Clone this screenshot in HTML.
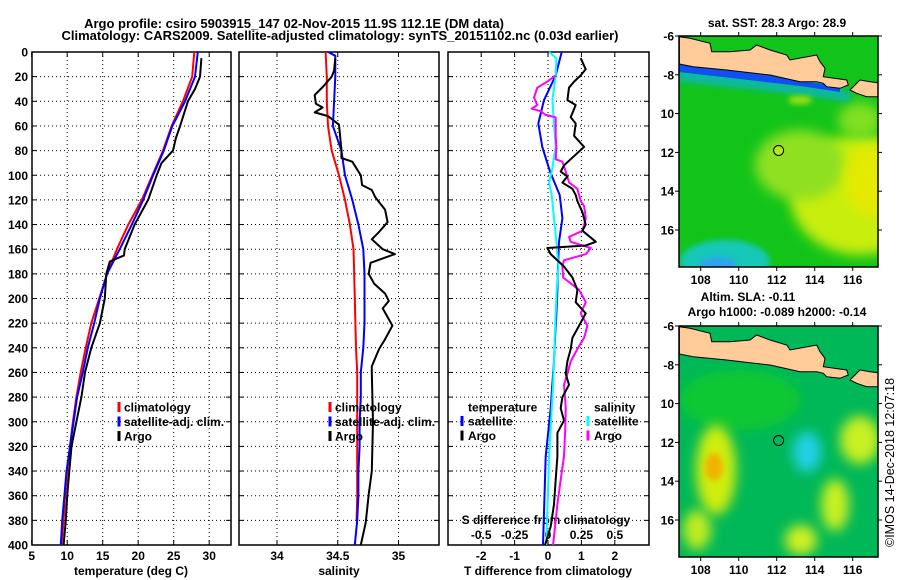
<!DOCTYPE html>
<html><head><meta charset="utf-8"><style>
html,body{margin:0;padding:0;background:#fff;}
svg{display:block;font-family:"Liberation Sans",Arial,sans-serif;}
.b{font-weight:bold;font-size:12px;}
.t{font-weight:bold;font-size:13px;}
</style></head><body>
<svg id="fig" width="900" height="580" viewBox="0 0 900 580" xmlns="http://www.w3.org/2000/svg">
<defs>
<filter id="blur6" x="-50%" y="-50%" width="200%" height="200%"><feGaussianBlur stdDeviation="6"/></filter>
<filter id="blur3" x="-50%" y="-50%" width="200%" height="200%"><feGaussianBlur stdDeviation="3"/></filter>
<clipPath id="m1clip"><rect x="679" y="36" width="199" height="231"/></clipPath>
<clipPath id="m2clip"><rect x="679" y="326" width="199" height="231"/></clipPath>
<clipPath id="latclip"><rect x="660" y="0" width="20" height="580"/></clipPath>
</defs>
<text class="t" x="294" y="28" text-anchor="middle">Argo profile: csiro 5903915_147 02-Nov-2015 11.9S 112.1E (DM data)</text>
<text class="t" x="340" y="40" text-anchor="middle">Climatology: CARS2009. Satellite-adjusted climatology: synTS_20151102.nc (0.03d earlier)</text>
<g id="panels"></g>
<g id="maps">
 <g clip-path="url(#m1clip)">
  <rect x="679" y="36" width="199" height="231" fill="#12c41a"/>
  <ellipse cx="860" cy="195" rx="70" ry="60" fill="#c8ee10" filter="url(#blur6)"/>
  <ellipse cx="800" cy="165" rx="45" ry="35" fill="#90e020" filter="url(#blur6)"/>
  <ellipse cx="870" cy="180" rx="25" ry="35" fill="#e4ea00" filter="url(#blur6)"/>
  <ellipse cx="860" cy="120" rx="22" ry="18" fill="#80e020" filter="url(#blur6)"/>
  <ellipse cx="725" cy="262" rx="45" ry="22" fill="#18c8b8" filter="url(#blur3)"/>
  <ellipse cx="718" cy="265" rx="18" ry="8" fill="#30a0f0" filter="url(#blur3)"/>
  <polygon points="679,64 693,67 727,70 770,75 800,82 823,84 840,89 850,92 850,102 800,95 740,88 679,82" fill="#10b8a0" filter="url(#blur3)"/>
  <polygon points="679,63 693,66 727,69 770,74 800,81 823,84 840,88 840,92 800,86 740,79 679,72" fill="#1050f0"/>
  <ellipse cx="800" cy="100" rx="12" ry="4" fill="#a8e010" filter="url(#blur3)"/>
  <circle cx="778.6" cy="150.5" r="5" fill="#b4e818" stroke="#000" stroke-width="1"/>
 </g>
 <g clip-path="url(#m2clip)">
  <rect x="679" y="326" width="199" height="231" fill="#00b858"/>
  <ellipse cx="740" cy="400" rx="60" ry="30" fill="#10c830" filter="url(#blur6)"/>
  <ellipse cx="716" cy="470" rx="20" ry="45" fill="#d0ee10" filter="url(#blur6)"/>
  <ellipse cx="714" cy="467" rx="9" ry="14" fill="#f0b400" filter="url(#blur3)"/>
  <ellipse cx="807" cy="452" rx="14" ry="20" fill="#20d0e8" filter="url(#blur6)"/>
  <ellipse cx="860" cy="440" rx="20" ry="24" fill="#c8f020" filter="url(#blur6)"/>
  <ellipse cx="835" cy="505" rx="14" ry="26" fill="#c8f020" filter="url(#blur6)"/>
  <ellipse cx="801" cy="540" rx="16" ry="15" fill="#d0f020" filter="url(#blur6)"/>
  <ellipse cx="697" cy="530" rx="14" ry="20" fill="#c0ec20" filter="url(#blur6)"/>
  <circle cx="778.6" cy="440.5" r="5" fill="none" stroke="#000" stroke-width="1"/>
 </g>
 <g id="land1">
  <polygon points="679.3,36.7 690,38.3 710,43.3 711.7,51.7 730,51.7 750,50 756.7,45 770,50 786.7,55 790,60 816.7,55 820,61.7 825,68.3 823.3,76.7 846.7,80 848.3,85 840,88.3 826.7,86.7 823.3,83.3 816.7,81.7 800,81.7 770,75 726.7,70 693.3,66.7 679.3,64" fill="#ffcc99" stroke="#000" stroke-width="1"/>
  <polygon points="850,90 860,80 870,81.7 878,82.7 878,96.7 866.7,96.7 856.7,93.3" fill="#ffcc99" stroke="#000" stroke-width="1"/>
 </g>
 <use href="#land1" transform="translate(0,290)"/>
 <rect x="679" y="36" width="199" height="231" fill="none" stroke="#000" stroke-width="1.5"/>
 <rect x="679" y="326" width="199" height="231" fill="none" stroke="#000" stroke-width="1.5"/>
 <g id="maplabels"></g>
 <text class="b" x="777" y="27" text-anchor="middle">sat. SST: 28.3 Argo: 28.9</text>
 <text class="b" x="748" y="301" text-anchor="middle">Altim. SLA: -0.11</text>
 <text class="b" x="777" y="316" text-anchor="middle">Argo h1000: -0.089 h2000: -0.14</text>
 <text x="894" y="547" font-size="12.5" transform="rotate(-90 894 547)">©IMOS 14-Dec-2018 12:07:18</text>
</g>
</svg>
<script>
// ---- Panel 1: temperature ----
const stdDepths = [0,20,40,60,80,100,120,140,160,180,200,220,240,260,280,300,320,340,360,380,400];
const tClim = [27.9,27.6,26.3,24.7,23.5,22.0,20.5,18.6,17.0,15.6,14.5,13.4,12.6,11.9,11.3,10.8,10.4,10.0,9.7,9.5,9.2];
const tSat = [28.4,28.0,26.6,24.8,23.6,22.1,20.7,19.1,17.4,15.6,14.6,13.8,12.9,12.2,11.4,10.9,10.4,9.9,9.6,9.3,9.1];
const tArgoDepths = [5,20,30,40,60,70,80,90,100,120,140,160,165,170,180,200,220,240,260,280,300,320,340,360,380,400];
const tArgo = [28.9,28.7,28.0,27.0,25.9,25.3,24.9,23.3,22.6,21.4,19.5,18.1,18.0,16.0,15.5,15.3,14.6,13.4,12.5,12.0,11.3,10.6,10.3,10.0,9.8,9.5];
const tTicks = [5,10,15,20,25,30];
// ---- Panel 2: salinity ----
const sClimDepths = [0,20,40,60,80,100,120,140,160,180,200,220,240,260,280,300,320,340,360,380];
const sClim = [34.40,34.41,34.41,34.42,34.45,34.51,34.56,34.60,34.63,34.635,34.64,34.645,34.65,34.66,34.66,34.66,34.66,34.66,34.66,34.655];
const sSatDepths = [0,3,20,40,60,80,100,120,140,160,180,200,220,240,260,280,300,320,340,360,380,400];
const sSat = [34.42,34.48,34.48,34.47,34.46,34.53,34.56,34.62,34.67,34.71,34.72,34.72,34.72,34.71,34.69,34.69,34.68,34.68,34.67,34.67,34.66,34.64];
const sArgoDepths = [5,15,20,28,35,42,45,49,52,59,79,86,89,100,108,112,118,128,138,146,152,160,164,171,180,188,196,202,208,222,233,241,255,260,300,340,359,382,400];
const sArgo = [34.48,34.47,34.45,34.38,34.31,34.32,34.375,34.31,34.42,34.51,34.53,34.53,34.62,34.69,34.70,34.78,34.81,34.89,34.91,34.84,34.78,34.87,34.97,34.77,34.755,34.80,34.89,34.92,34.87,34.95,34.89,34.84,34.78,34.78,34.79,34.78,34.755,34.73,34.69];
const sTicks = [34,34.5,35];
const sTickLabels = ["34","34.5","35"];
// ---- Panel 3: differences ----
const dTsatDepths = [0,19,39,58,77,97,116,135,154,174,193,212,232,251,270,289,328,400];
const dTsat = [0.41,0.23,-0.12,-0.29,-0.17,0.06,0.35,0.43,0.33,0.30,0.28,0.25,0.21,0.18,0.13,0.08,-0.07,-0.15];
const dTargoDepths = [5,14,19,24,29,39,43,53,58,68,77,87,92,97,101,106,111,116,121,130,140,145,154,157,159,164,174,183,193,203,212,222,232,241,251,261,270,280,289,299,309,328,347,367,385,400];
const dTargo = [0.98,1.13,0.98,0.78,0.63,0.58,0.83,0.68,0.83,0.78,1.08,0.68,0.48,0.38,0.58,0.43,0.73,0.83,0.88,1.03,1.13,1.03,1.43,1.13,-0.02,0.08,0.48,0.73,0.88,0.83,1.13,0.93,0.73,0.68,0.58,0.53,0.63,0.43,0.38,0.48,0.28,0.28,0.23,0.18,0.08,-0.09];
const dSsatDepths = [0,5,19,39,58,77,97,106,116,135,154,174,193,212,232,251,270,328,400];
const dSsat = [0.008,0.063,0.058,0.033,0.045,0.058,0.028,0.008,0.028,0.045,0.063,0.078,0.065,0.058,0.05,0.045,0.038,0.008,-0.013];
const dSargoDepths = [19,24,29,37,43,46,48,51,53,68,77,87,89,97,106,111,121,125,135,145,150,154,159,164,169,174,183,193,203,212,222,232,241,251,261,270,289,309,328,347,367,400];
const dSargo = [0.058,-0.005,-0.08,-0.105,-0.08,-0.123,-0.055,-0.018,0.058,0.058,0.063,0.058,0.108,0.133,0.158,0.22,0.245,0.27,0.283,0.258,0.158,0.17,0.32,0.283,0.12,0.108,0.113,0.233,0.283,0.245,0.295,0.27,0.22,0.17,0.145,0.12,0.133,0.128,0.12,0.095,0.07,0.038];
const dTTicks = [-2,-1,0,1,2];
const dSTicks = [-0.5,-0.25,0,0.25,0.5];
const dSTickLabels = ["-0.5","-0.25","0","0.25","0.5"];
const depthTicks = [0,20,40,60,80,100,120,140,160,180,200,220,240,260,280,300,320,340,360,380,400];
// ---- Maps ----
const lonTicks = [108,110,112,114,116];
const latTicks = [-6,-8,-10,-12,-14,-16];

const NS="http://www.w3.org/2000/svg";
const TOP=52, BOT=545;
function yD(d){return TOP + d*(BOT-TOP)/400;}
function xT(v){return 31.7 + (v-5)*7.1;}
function xS(v){return 277 + (v-34)*121.5;}
function xDT(v){return 548 + v*33.4;}
function xDS(v){return 548 + v*4*33.4;}
function mk(tag,attrs,parent){const e=document.createElementNS(NS,tag);for(const k in attrs)e.setAttribute(k,attrs[k]);parent.appendChild(e);return e;}
const panels=document.getElementById('panels');

function frame(x0,x1,xticks,xf,name){
  const g=mk('g',{},panels);
  
  
  depthTicks.forEach((d,i)=>{
    if(i>0&&i<depthTicks.length-1){
      const gl=mk('line',{x1:x0,x2:x1,y1:yD(d),y2:yD(d),stroke:'#000','stroke-width':1,'stroke-dasharray':'1,3'},g);
      
      
    }
    mk('line',{x1:x0,x2:x0+5,y1:yD(d),y2:yD(d),stroke:'#000','stroke-width':1},g);
    mk('line',{x1:x1-5,x2:x1,y1:yD(d),y2:yD(d),stroke:'#000','stroke-width':1},g);
  });
  xticks.forEach(v=>{
    const x=xf(v);
    if(x>x0+2&&x<x1-2){
      const gl=mk('line',{x1:x,x2:x,y1:TOP,y2:BOT,stroke:'#000','stroke-width':1,'stroke-dasharray':'1,3'},g);
      
      
    }
    mk('line',{x1:x,x2:x,y1:BOT-5,y2:BOT,stroke:'#000','stroke-width':1},g);
    mk('line',{x1:x,x2:x,y1:TOP,y2:TOP+5,stroke:'#000','stroke-width':1},g);
  });
  const r=mk('rect',{x:x0,y:TOP,width:x1-x0,height:BOT-TOP,fill:'none',stroke:'#000','stroke-width':1.5},g);
  
  
  return g;
}
function line(g,depths,vals,xf,color,name){
  const pts=depths.map((d,i)=>xf(vals[i]).toFixed(1)+','+yD(d).toFixed(1)).join(' ');
  const p=mk('polyline',{points:pts,fill:'none',stroke:color,'stroke-width':2,'stroke-linejoin':'round'},g);
  
  
}
function text(g,x,y,s,anchor,cls,name){
  const t=mk('text',{x:x,y:y,'text-anchor':anchor||'start',class:cls||'b'},g);
  t.textContent=s;
  
  
  return t;
}
function legendMark(g,x,y,color,name){
  const l=mk('line',{x1:x,x2:x,y1:y-10,y2:y,stroke:color,'stroke-width':3},g);
  
  
}

// Panel 1
const g1=frame(32,231,tTicks,xT,'temperature-panel');
depthTicks.forEach(d=>text(g1,28,yD(d)+4.5,String(d),'end','b','depth-tick-label'));
tTicks.forEach(v=>text(g1,xT(v),560,String(v),'middle','b','temperature-tick-label'));
text(g1,131,575,'temperature (deg C)','middle','b','temperature-axis-title');
line(g1,stdDepths,tClim,xT,'#ff0000','temperature-climatology-line');
line(g1,stdDepths,tSat,xT,'#0000ff','temperature-satellite-line');
line(g1,tArgoDepths,tArgo,xT,'#000000','temperature-argo-line');
[['climatology','#ff0000'],['satellite-adj. clim.','#0000ff'],['Argo','#000000']].forEach((e,i)=>{
  legendMark(g1,119,412+i*14.5,e[1],'legend-marker');
  text(g1,124,411.5+i*14.5,e[0],'start','b','legend-entry');
});
// Panel 2
const g2=frame(239,439,sTicks,xS,'salinity-panel');
sTicks.forEach((v,i)=>text(g2,xS(v),560,sTickLabels[i],'middle','b','salinity-tick-label'));
text(g2,339,575,'salinity','middle','b','salinity-axis-title');
line(g2,sClimDepths,sClim,xS,'#ff0000','salinity-climatology-line');
line(g2,sSatDepths,sSat,xS,'#0000ff','salinity-satellite-line');
line(g2,sArgoDepths,sArgo,xS,'#000000','salinity-argo-line');
[['climatology','#ff0000'],['satellite-adj. clim.','#0000ff'],['Argo','#000000']].forEach((e,i)=>{
  legendMark(g2,330,412+i*14.5,e[1],'legend-marker');
  text(g2,335,411.5+i*14.5,e[0],'start','b','legend-entry');
});
// Panel 3
const g3=frame(448,649,dTTicks,xDT,'difference-panel');
dTTicks.forEach(v=>text(g3,xDT(v),560,String(v),'middle','b','t-diff-tick-label'));
dSTicks.forEach((v,i)=>text(g3,xDS(v),539,dSTickLabels[i],'middle','b','s-diff-tick-label'));
text(g3,546,524,'S difference from climatology','middle','b','s-diff-axis-title');
text(g3,548,575,'T difference from climatology','middle','b','t-diff-axis-title');
line(g3,dTsatDepths,dTsat,xDT,'#0000ff','t-diff-satellite-line');
line(g3,dSsatDepths,dSsat,xDS,'#00ffff','s-diff-satellite-line');
line(g3,dSargoDepths,dSargo,xDS,'#ff00ff','s-diff-argo-line');
line(g3,dTargoDepths,dTargo,xDT,'#000000','t-diff-argo-line');
text(g3,468,411.5,'temperature','start','b','legend-title-temperature');
legendMark(g3,462,426,'#0000ff','legend-marker');
text(g3,468,425.5,'satellite','start','b','legend-entry');
legendMark(g3,462,440.5,'#000000','legend-marker');
text(g3,468,440,'Argo','start','b','legend-entry');
text(g3,594,411.5,'salinity','start','b','legend-title-salinity');
legendMark(g3,588,426,'#00ffff','legend-marker');
text(g3,594,425.5,'satellite','start','b','legend-entry');
legendMark(g3,588,440.5,'#ff00ff','legend-marker');
text(g3,594,440,'Argo','start','b','legend-entry');

// Map axes
const ml=document.getElementById('maplabels');
function lonX(lon){return 681.7+(lon-107)*19;}
[[36,267,284],[326,557,574]].forEach(m=>{
  const top=m[0],bot=m[1];
  lonTicks.forEach(lon=>{
    const x=lonX(lon);
    mk('line',{x1:x,x2:x,y1:top-4,y2:top,stroke:'#000','stroke-width':1},ml);
    mk('line',{x1:x,x2:x,y1:bot,y2:bot+4,stroke:'#000','stroke-width':1},ml);
    text(ml,x,m[2],String(lon),'middle','b','longitude-tick-label');
  });
  latTicks.forEach(lat=>{
    const y=top+(-6-lat)*19.4;
    mk('line',{x1:675,x2:679,y1:y,y2:y,stroke:'#000','stroke-width':1},ml);
    mk('line',{x1:878,x2:882,y1:y,y2:y,stroke:'#000','stroke-width':1},ml);
    const t=text(ml,674,y+4.5,String(lat),'end','b','latitude-tick-label');
    t.setAttribute('clip-path','url(#latclip)');
  });
});
</script>
</body></html>
